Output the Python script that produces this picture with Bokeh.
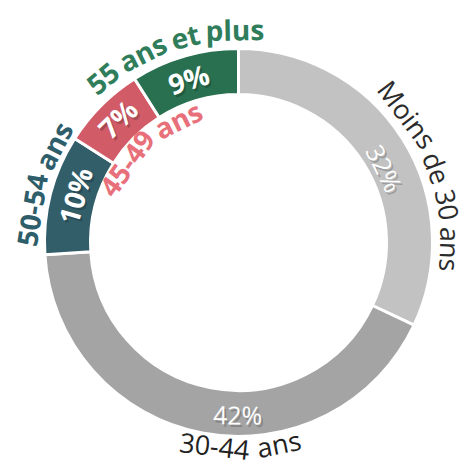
import math
from bokeh.plotting import figure
from bokeh.models import ColumnDataSource, Range1d
from bokeh.embed import file_html
from bokeh.resources import INLINE
from bokeh.core.properties import value

# ---- data ----
categories = ["Moins de 30 ans", "30-44 ans", "50-54 ans", "45-49 ans", "55 ans et plus"]
shares = [32, 42, 10, 7, 9]
pct_labels = ["32%", "42%", "10%", "7%", "9%"]

# ---- styling ----
slice_colors = ["#c2c2c2", "#a4a4a4", "#325e6a", "#d15b66", "#28704f"]
cat_colors = ["#2b2b2b", "#222222", "#2f5e6b", "#e8707a", "#2f7d5b"]
cat_bold = [False, False, True, True, True]
cat_clockwise = [True, False, True, True, True]
cat_offset = [12.5, -11.3, 2.2, 2.0, -2.3]      # degrees from slice middle
cat_radius = [212, 205, 209, 137, 213]
cat_size = [27, 27, 28, 28, 28]
pct_bold = [False, False, True, True, True]
pct_clockwise = [True, False, True, True, True]
pct_offset = [5.5, -10.5, 1.6, 0.7, -0.8]
pct_radius = [164, 172, 170, 173, 171]
pct_size = [25, 25, 28, 28, 28]

W, H = 469, 467
CX, CY = 238, 242
R_IN, R_OUT = 148, 194
FONT = "Open Sans"

REG = {'M': .907, 'o': .602, 'i': .252, 'n': .613, 's': .479, 'd': .613, 'e': .561,
       'a': .556, 't': .353, 'p': .613, 'l': .252, 'u': .613, '-': .322, '%': .82, ' ': .26}
BOLD = {'a': .59, 'n': .634, 's': .5, 'e': .576, 't': .43, 'p': .634, 'l': .31,
        'u': .634, '-': .322, '%': .88, ' ': .26}


def text_width(s, bold):
    tbl = BOLD if bold else REG
    return sum(tbl.get(c, 0.572) for c in s)


def arc_words(text, theta_c, r, size, bold, clockwise):
    words = text.split(" ")
    widths = [text_width(w, bold) * size for w in words]
    space = text_width(" ", bold) * size
    total = sum(widths) + space * (len(words) - 1)
    s = -total / 2
    xs, ys, angs = [], [], []
    for w, wd in zip(words, widths):
        mid = s + wd / 2
        d = math.degrees(mid / r)
        th = theta_c + d if clockwise else theta_c - d
        xs.append(r * math.sin(math.radians(th)))
        ys.append(r * math.cos(math.radians(th)))
        a = -th if clockwise else 180 - th
        angs.append(math.radians(a))
        s += wd + space
    return words, xs, ys, angs


p = figure(width=W, height=H, x_range=Range1d(-CX, W - CX), y_range=Range1d(-(H - CY), CY),
           output_backend="svg", toolbar_location=None, min_border=0,
           x_axis_type=None, y_axis_type=None)
p.grid.visible = False
p.outline_line_color = None
p.background_fill_color = "white"

# slices
starts, ends, mids = [], [], []
cum = 0
for s in shares:
    t1 = cum / sum(shares) * 360
    t2 = (cum + s) / sum(shares) * 360
    starts.append(math.radians(90 - t1))
    ends.append(math.radians(90 - t2))
    mids.append((t1 + t2) / 2)
    cum += s

src = ColumnDataSource(dict(cat=categories, share=shares, start=starts, end=ends, color=slice_colors))
p.annular_wedge(x=0, y=0, inner_radius=R_IN, outer_radius=R_OUT, start_angle="start",
                end_angle="end", direction="clock", fill_color="color", line_color="white",
                line_width=3, source=src)


def draw_label(text, theta, r, size, bold, clockwise, color, shadow_alpha):
    words, xs, ys, angs = arc_words(text, theta, r, size, bold, clockwise)
    style = "bold" if bold else "normal"
    if shadow_alpha > 0:
        sh = ColumnDataSource(dict(t=words, x=[x + 2 for x in xs], y=[y - 2.5 for y in ys], a=angs))
        p.text(x="x", y="y", text="t", angle="a", source=sh, text_font=value(FONT),
               text_font_size=value(f"{size}px"), text_font_style=style, text_color="black",
               text_alpha=shadow_alpha, text_align="center", text_baseline="middle")
    cs = ColumnDataSource(dict(t=words, x=xs, y=ys, a=angs))
    p.text(x="x", y="y", text="t", angle="a", source=cs, text_font=value(FONT),
           text_font_size=value(f"{size}px"), text_font_style=style, text_color=color,
           text_align="center", text_baseline="middle")


for i, c in enumerate(categories):
    draw_label(c, mids[i] + cat_offset[i], cat_radius[i], cat_size[i], cat_bold[i],
               cat_clockwise[i], cat_colors[i], 0)

for i, t in enumerate(pct_labels):
    draw_label(t, mids[i] + pct_offset[i], pct_radius[i], pct_size[i], pct_bold[i],
               pct_clockwise[i], "white", 0.2)

open("out.html", "w").write(file_html(p, INLINE))
